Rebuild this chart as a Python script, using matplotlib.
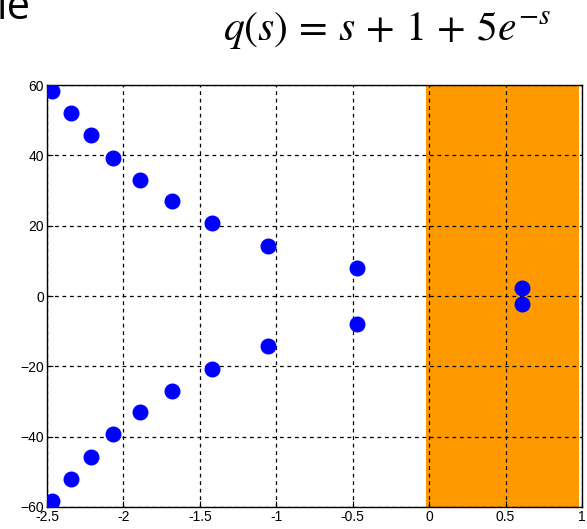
import numpy as np
import matplotlib.pyplot as plt

# roots of q(s) (upper half, lower half is mirrored)
re_part = [-2.467, -2.343, -2.212, -2.068, -1.892, -1.682, -1.421, -1.055, -0.473, 0.605]
im_part = [58.3, 52.0, 45.8, 39.3, 33.0, 27.0, 20.8, 14.3, 8.0, 2.25]
xticks = [-2.5, -2, -1.5, -1, -0.5, 0, 0.5, 1]
xticklabels = ['-2.5', '-2', '-1.5', '-1', '-0.5', '0', '0.5', '1']
yticks = [-60, -40, -20, 0, 20, 40, 60]
unstable = (-0.02, 0.98)

fig = plt.figure(figsize=(5.87, 5.29), dpi=100)
ax = fig.add_axes([0.080, 0.0416, 0.9115, 0.7974])

ax.axvspan(unstable[0], unstable[1], color='#ff9900', lw=0, zorder=1)

x = np.array(re_part + re_part)
y = np.array(im_part + [-v for v in im_part])
ax.plot(x, y, 'o', color='#0000ff', markersize=10.5, zorder=3)

ax.set_xlim(-2.5, 1)
ax.set_ylim(-60, 60)
ax.set_xticks(xticks)
ax.set_xticklabels(xticklabels)
ax.set_yticks(yticks)
ax.tick_params(direction='in', labelsize=10, length=4, pad=2)
for lab in ax.get_xticklabels() + ax.get_yticklabels():
    lab.set_family('Liberation Sans')
ax.grid(True, color='black', linestyle=(0, (3, 3)), linewidth=0.9)
for sp in ax.spines.values():
    sp.set_linewidth(1.0)

plt.rcParams['mathtext.fontset'] = 'stix'
fig.text(0.66, 0.943, r'$q(s)\,=\,s\,+\,1\,+\,5e^{-s}$', fontsize=30,
         ha='center', va='center')
fig.text(-0.005, 0.985, 'ie', fontsize=30, family='Open Sans',
         ha='left', va='center')

fig.savefig('out.png', dpi=100)
